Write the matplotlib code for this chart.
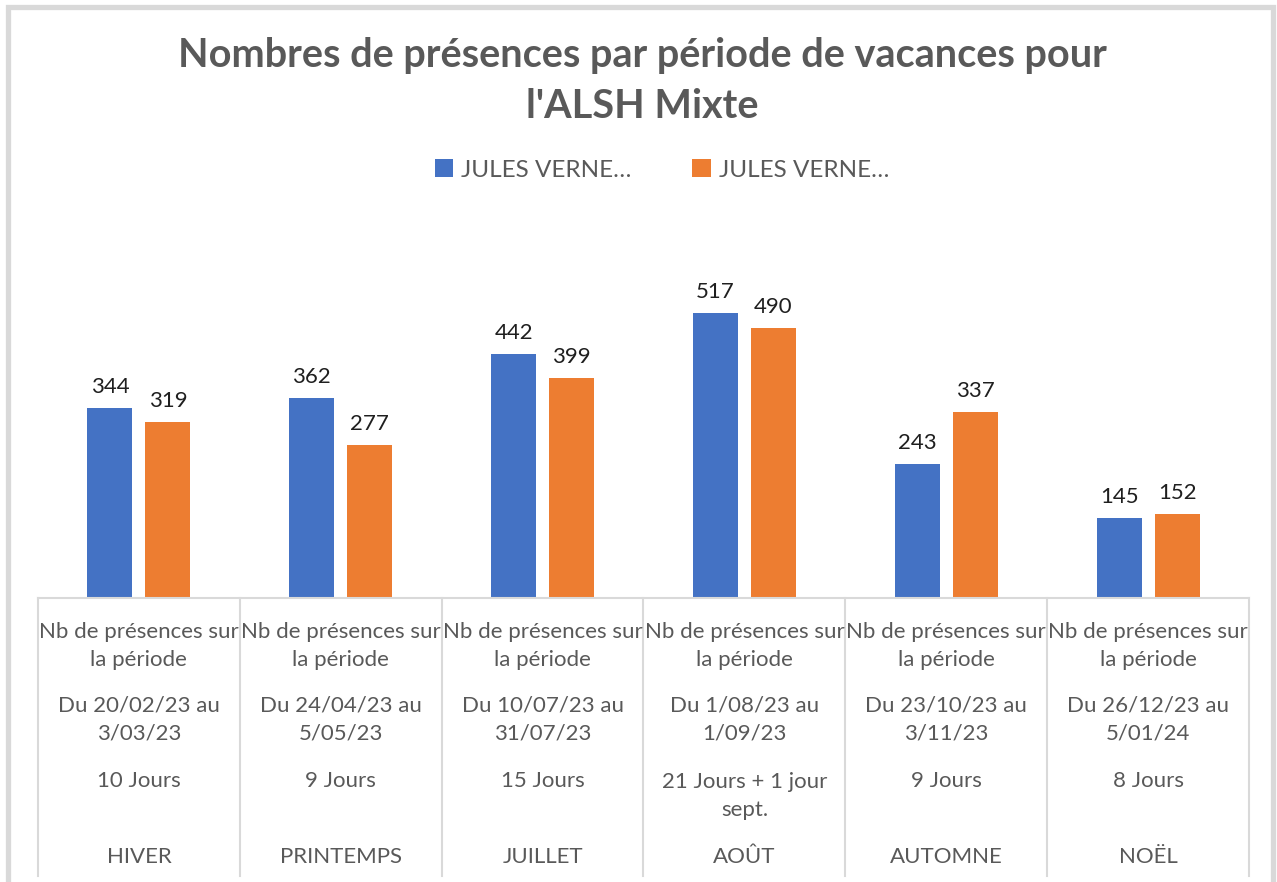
import matplotlib
matplotlib.use("Agg")
import matplotlib.pyplot as plt
from matplotlib.patches import Rectangle
from matplotlib.transforms import blended_transform_factory
import numpy as np

categories = ['HIVER', 'PRINTEMPS', 'JUILLET', 'AOÛT', 'AUTOMNE', 'NOËL']
periods = ['Du 20/02/23 au\n3/03/23', 'Du 24/04/23 au\n5/05/23', 'Du 10/07/23 au\n31/07/23',
           'Du 1/08/23 au\n1/09/23', 'Du 23/10/23 au\n3/11/23', 'Du 26/12/23 au\n5/01/24']
durations = ['10 Jours', '9 Jours', '15 Jours', '21 Jours + 1 jour\nsept.', '9 Jours', '8 Jours']
measure = 'Nb de présences sur\nla période'
series_names = ['JULES VERNE…', 'JULES VERNE…']
series1 = [344, 362, 442, 517, 243, 145]
series2 = [319, 277, 399, 490, 337, 152]

W, H = 1277, 882
plt.rcParams['font.family'] = ['Lato', 'DejaVu Sans']
fig = plt.figure(figsize=(W / 100, H / 100), dpi=100)

TXT = '#595959'
GRID = '#D9D9D9'
BLUE = '#4472C4'
ORANGE = '#ED7D31'

def fx(px):
    return px / W

def fy(py):
    return 1 - py / H

# plot area
left, right, base, top = 38, 1249, 598, 267
ax = fig.add_axes([fx(left), fy(base), fx(right - left), (base - top) / H])
ax.set_xlim(-0.5, len(categories) - 0.5)
ax.set_ylim(0, 600)
ax.axis('off')

x = np.arange(len(categories))
bw = 0.223
off = 0.1437
b1 = ax.bar(x - off, series1, bw, color=BLUE, label=series_names[0])
b2 = ax.bar(x + off, series2, bw, color=ORANGE, label=series_names[1])
for bars in (b1, b2):
    ax.bar_label(bars, padding=8, fontsize=16, color='#1f1f1f')

# category table
tr = blended_transform_factory(ax.transData, fig.transFigure)
ax.plot([-0.5, len(categories) - 0.5], [fy(base), fy(base)], transform=tr,
        color=GRID, lw=1.5, clip_on=False)
for b in np.arange(len(categories) + 1) - 0.5:
    ax.plot([b, b], [fy(base), fy(876)], transform=tr, color=GRID, lw=1.5, clip_on=False)

fs = 16
lsp = 29.5
def put(xi, first_center, s):
    n = s.count('\n') + 1
    yc = first_center + (n - 1) * lsp / 2
    ax.text(xi, fy(yc), s, transform=tr, ha='center', va='center', fontsize=fs,
            color=TXT, linespacing=1.47, clip_on=False)

for i in range(len(categories)):
    put(x[i], 631, measure)
    put(x[i], 705, periods[i])
    put(x[i], 781, durations[i])
    put(x[i], 857, categories[i])

# title
fig.text(fx(642), fy(81), "Nombres de présences par période de vacances pour\nl'ALSH Mixte",
         ha='center', va='center', fontsize=28.5, fontweight='bold', color=TXT, linespacing=1.49)

# legend
leg = fig.legend(handles=[b1, b2], labels=series_names, loc='center',
                 bbox_to_anchor=(fx(662), fy(170)), ncol=2, frameon=False,
                 fontsize=17.5, labelcolor=TXT, handlelength=0.75, handleheight=0.75,
                 handletextpad=0.35, columnspacing=2.5)

# outer border
fig.patches.append(Rectangle((fx(7.5), fy(900)), fx(1272.5 - 7.5), (900 - 6.5) / H,
                             transform=fig.transFigure, fill=False, edgecolor=GRID, lw=3.8))

fig.savefig('out.png', dpi=100)
